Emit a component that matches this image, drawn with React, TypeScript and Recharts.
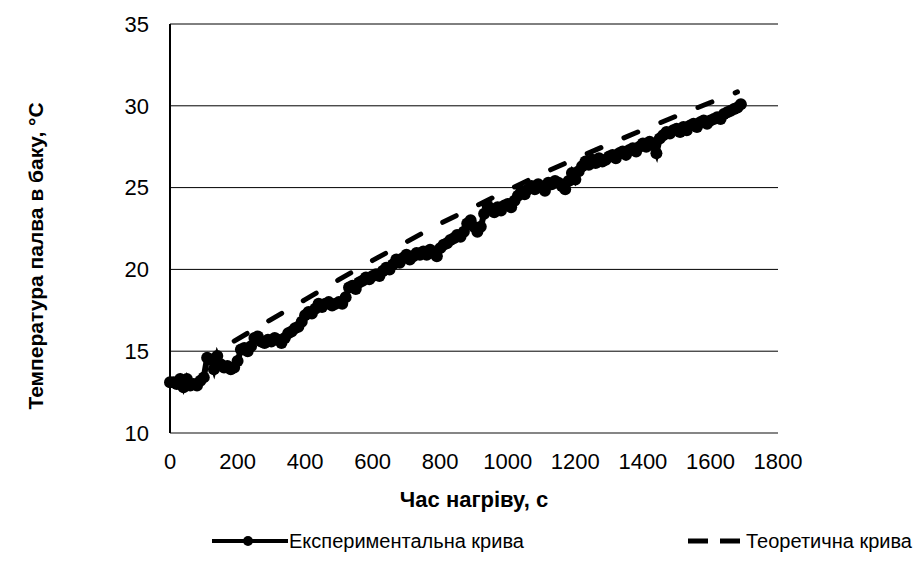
import { LineChart, Line, XAxis, YAxis, CartesianGrid } from "recharts";

// measured: sampled every 10 s
const expTime = [
  0, 10, 20, 30, 40, 50, 60, 70, 80, 90,
  100, 110, 120, 130, 140, 150, 160, 170, 180, 190,
  200, 210, 220, 230, 240, 250, 260, 270, 280, 290,
  300, 310, 320, 330, 340, 350, 360, 370, 380, 390,
  400, 410, 420, 430, 440, 450, 460, 470, 480, 490,
  500, 510, 520, 530, 540, 550, 560, 570, 580, 590,
  600, 610, 620, 630, 640, 650, 660, 670, 680, 690,
  700, 710, 720, 730, 740, 750, 760, 770, 780, 790,
  800, 810, 820, 830, 840, 850, 860, 870, 880, 890,
  900, 910, 920, 930, 940, 950, 960, 970, 980, 990,
  1000, 1010, 1020, 1030, 1040, 1050, 1060, 1070, 1080, 1090,
  1100, 1110, 1120, 1130, 1140, 1150, 1160, 1170, 1180, 1190,
  1200, 1210, 1220, 1230, 1240, 1250, 1260, 1270, 1280, 1290,
  1300, 1310, 1320, 1330, 1340, 1350, 1360, 1370, 1380, 1390,
  1400, 1410, 1420, 1430, 1440, 1450, 1460, 1470, 1480, 1490,
  1500, 1510, 1520, 1530, 1540, 1550, 1560, 1570, 1580, 1590,
  1600, 1610, 1620, 1630, 1640, 1650, 1660, 1670, 1680, 1690,
];

const expTemp = [
  13.1, 13.1, 13.0, 13.3, 12.8, 13.3, 12.9, 13.0, 12.9, 13.2,
  13.4, 14.6, 14.5, 13.9, 14.7, 14.2, 14.0, 14.1, 13.9, 14.0,
  14.4, 15.1, 15.2, 15.0, 15.3, 15.8, 15.9, 15.6, 15.5, 15.7,
  15.6, 15.8, 15.7, 15.5, 15.8, 16.1, 16.2, 16.4, 16.5, 16.8,
  17.2, 17.4, 17.3, 17.6, 17.9, 17.7, 17.9, 18.0, 17.8, 17.9,
  18.0, 17.9, 18.3, 18.9, 19.0, 18.8, 19.2, 19.3, 19.5, 19.4,
  19.6, 19.7, 19.6, 19.9, 20.1, 20.0, 20.3, 20.6, 20.4, 20.7,
  20.9, 20.6, 20.8, 21.0, 20.9, 21.1, 20.9, 21.2, 21.0, 20.8,
  21.3, 21.5, 21.6, 21.8, 21.9, 22.1, 22.0, 22.3, 22.8, 23.0,
  22.6, 22.3, 22.6, 23.4, 23.9, 23.7, 23.5, 23.8, 23.6, 23.9,
  24.0, 23.8, 24.2, 24.5, 24.8, 24.6, 24.9, 25.1, 24.9, 25.2,
  25.0, 24.8, 25.3, 25.2, 25.4, 25.3, 25.1, 24.9, 25.4, 25.9,
  25.5, 26.0, 26.3, 26.6, 26.4, 26.7, 26.5, 26.8, 26.6, 26.7,
  26.9, 27.0, 26.8, 27.1, 27.2, 27.0, 27.3, 27.4, 27.2, 27.5,
  27.7, 27.5, 27.8, 27.6, 27.1, 28.0, 28.2, 28.4, 28.3, 28.5,
  28.6, 28.4, 28.7, 28.5, 28.8, 28.9, 28.7, 29.0, 29.1, 28.9,
  29.1, 29.2, 29.3, 29.2, 29.5, 29.6, 29.7, 29.8, 29.9, 30.1,
];

// theoretical curve
const theoTime = [190, 300, 400, 500, 600, 700, 800, 900, 1000, 1100, 1200, 1300, 1400, 1500, 1600, 1680];
const theoTemp = [15.62, 16.95, 18.15, 19.37, 20.55, 21.68, 22.8, 23.82, 24.84, 25.84, 26.76, 27.66, 28.53, 29.38, 30.2, 30.85];

const xTicks = [0, 200, 400, 600, 800, 1000, 1200, 1400, 1600, 1800];
const yTicks = [10, 15, 20, 25, 30, 35];

const FONT = "Arial, 'Liberation Sans', sans-serif";

export default function App() {
  const expData = expTime.map((t, i) => ({ t, v: expTemp[i] }));
  const theoData = theoTime.map((t, i) => ({ t, v: theoTemp[i] }));

  return (
    <div style={{ position: "absolute", left: 0, top: 0, width: 914, height: 563, background: "#fff", fontFamily: FONT, overflow: "hidden" }}>
      <LineChart width={914} height={563} margin={{ top: 24, right: 136, bottom: 56, left: 0 }}>
        <CartesianGrid vertical={false} stroke="#000" strokeWidth={1} />
        <XAxis
          type="number"
          dataKey="t"
          domain={[0, 1800]}
          ticks={xTicks}
          height={74}
          axisLine={{ stroke: "#868686", strokeWidth: 2 }}
          tickLine={false}
          tickSize={0}
          tickMargin={20}
          tick={{ fill: "#000", fontSize: 22, fontFamily: FONT }}
          label={{ value: "Час нагріву, с", position: "insideBottom", offset: 0, fill: "#000", fontSize: 22, fontWeight: "bold", fontFamily: FONT }}
        />
        <YAxis
          type="number"
          domain={[10, 35]}
          ticks={yTicks}
          width={170}
          axisLine={{ stroke: "#000", strokeWidth: 2 }}
          tickLine={false}
          tickSize={0}
          tickMargin={21}
          tick={{ fill: "#000", fontSize: 22, fontFamily: FONT }}
        />
        <Line
          data={expData}
          dataKey="v"
          stroke="#000"
          strokeWidth={6}
          dot={{ r: 6, fill: "#000", stroke: "#000", strokeWidth: 0 }}
          isAnimationActive={false}
        />
        <Line
          data={theoData}
          dataKey="v"
          stroke="#000"
          strokeWidth={5}
          strokeDasharray="15 25"
          strokeLinecap="round"
          dot={false}
          isAnimationActive={false}
        />
        <text
          x={35}
          y={256}
          transform="rotate(-90 35 256)"
          textAnchor="middle"
          dominantBaseline="central"
          fontSize={21}
          fontWeight="bold"
          fontFamily={FONT}
          fill="#000"
        >
          Температура палва в баку, °C
        </text>
      </LineChart>

      {/* legend */}
      <svg style={{ position: "absolute", left: 212, top: 534 }} width={78} height={14}>
        <line x1={0} y1={7} x2={76} y2={7} stroke="#000" strokeWidth={4} />
        <circle cx={36} cy={7} r={5} fill="#000" />
      </svg>
      <span style={{ position: "absolute", left: 289, top: 531, fontSize: 20, lineHeight: "20px", whiteSpace: "nowrap", color: "#000" }}>
        Експериментальна крива
      </span>
      <svg style={{ position: "absolute", left: 686, top: 534 }} width={58} height={14}>
        <line x1={2} y1={7} x2={54} y2={7} stroke="#000" strokeWidth={5} strokeDasharray="20 12" />
      </svg>
      <span style={{ position: "absolute", left: 746, top: 531, fontSize: 20, lineHeight: "20px", whiteSpace: "nowrap", color: "#000" }}>
        Теоретична крива
      </span>
    </div>
  );
}
